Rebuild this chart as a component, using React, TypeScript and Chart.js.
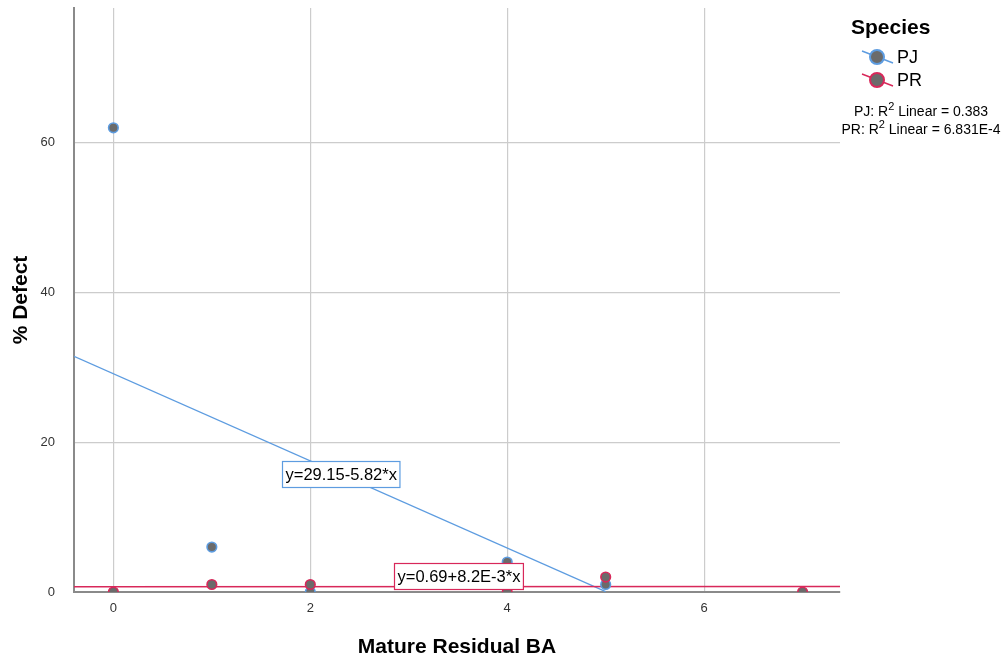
import React, { useEffect, useRef } from "react";
import { Chart, registerables } from "chart.js";

Chart.register(...registerables);

const pjX = [0, 1, 2, 4, 5];
const pjY = [62, 6, 0, 4, 1];
const prX = [0, 1, 2, 4, 5, 7];
const prY = [0, 1, 1, 0, 2, 0];

// fitted lines as reported in the chart
const pjFit = { a: 29.15, b: -5.82, xFrom: -0.4, xTo: 5 };
const prFit = { a: 0.69, b: 0.0082, xFrom: -0.4, xTo: 7.38 };

const xTicks = [0, 2, 4, 6];
const yTicks = [0, 20, 40, 60];

const pjLabel = "y=29.15-5.82*x";
const prLabel = "y=0.69+8.2E-3*x";
const legendTitle = "Species";
const seriesNames = ["PJ", "PR"];
const r2Lines = [
  ["PJ: R", "2", " Linear = 0.383"],
  ["PR: R", "2", " Linear = 6.831E-4"],
];

const BLUE = "#5d9ce0";
const RED = "#d8285a";
const FILL = "#6b6b6b";
const FONT = "'Liberation Sans', Arial, sans-serif";

function fitPts(f: { a: number; b: number; xFrom: number; xTo: number }) {
  return [
    { x: f.xFrom, y: f.a + f.b * f.xFrom },
    { x: f.xTo, y: f.a + f.b * f.xTo },
  ];
}

const overlay = {
  id: "overlay",
  afterDraw(chart: any) {
    const ctx = chart.ctx;
    const ca = chart.chartArea;
    ctx.save();
    // axis titles
    ctx.fillStyle = "#000";
    ctx.font = `bold 21px ${FONT}`;
    ctx.textAlign = "center";
    ctx.textBaseline = "middle";
    ctx.fillText("Mature Residual BA", (ca.left + ca.right) / 2, 647);
    ctx.save();
    ctx.translate(21, 300);
    ctx.rotate(-Math.PI / 2);
    ctx.fillText("% Defect", 0, 0);
    ctx.restore();

    // annotation boxes
    const box = (text: string, left: number, top: number, color: string) => {
      ctx.font = `16.5px ${FONT}`;
      const w = ctx.measureText(text).width + 6;
      const h = 26;
      ctx.fillStyle = "#fff";
      ctx.fillRect(left, top, w, h);
      ctx.strokeStyle = color;
      ctx.lineWidth = 1.2;
      ctx.strokeRect(left + 0.5, top + 0.5, w, h);
      ctx.fillStyle = "#000";
      ctx.textAlign = "left";
      ctx.textBaseline = "middle";
      ctx.fillText(text, left + 3.5, top + h / 2 + 1);
    };
    box(pjLabel, 282, 461, BLUE);
    box(prLabel, 394, 563, RED);

    // legend
    ctx.fillStyle = "#000";
    ctx.font = `bold 21px ${FONT}`;
    ctx.textAlign = "left";
    ctx.textBaseline = "middle";
    ctx.fillText(legendTitle, 851, 28);
    const colors = [BLUE, RED];
    [57, 80].forEach((y, i) => {
      ctx.strokeStyle = colors[i];
      ctx.lineWidth = 1.5;
      ctx.beginPath();
      ctx.moveTo(862, y - 6);
      ctx.lineTo(893, y + 6);
      ctx.stroke();
      ctx.beginPath();
      ctx.arc(877, y, 7, 0, Math.PI * 2);
      ctx.fillStyle = FILL;
      ctx.fill();
      ctx.lineWidth = 2;
      ctx.stroke();
      ctx.fillStyle = "#000";
      ctx.font = `18px ${FONT}`;
      ctx.fillText(seriesNames[i], 897, y + 1);
    });
    // R2 texts
    [112, 130].forEach((y, i) => {
      const [a, sup, b] = r2Lines[i];
      ctx.font = `14px ${FONT}`;
      const wa = ctx.measureText(a).width;
      const wb = ctx.measureText(b).width;
      ctx.font = `11px ${FONT}`;
      const ws = ctx.measureText(sup).width;
      const total = wa + ws + wb;
      let x = 921 - total / 2;
      ctx.fillStyle = "#000";
      ctx.textAlign = "left";
      ctx.textBaseline = "middle";
      ctx.font = `14px ${FONT}`;
      ctx.fillText(a, x, y);
      x += wa;
      ctx.font = `11px ${FONT}`;
      ctx.fillText(sup, x, y - 5);
      x += ws;
      ctx.font = `14px ${FONT}`;
      ctx.fillText(b, x, y);
    });
    ctx.restore();
  },
};

export default function App() {
  const ref = useRef<HTMLCanvasElement>(null);
  useEffect(() => {
    document.body.style.margin = "0";
    const pointStyle = (c: string) => ({
      showLine: false,
      pointRadius: 4.8,
      pointBackgroundColor: FILL,
      pointBorderColor: c,
      pointBorderWidth: 1.6,
    });
    const chart = new Chart(ref.current!, {
      type: "scatter",
      data: {
        datasets: [
          {
            label: "PJ fit",
            data: fitPts(pjFit),
            showLine: true,
            borderColor: BLUE,
            borderWidth: 1.3,
            pointRadius: 0,
            order: 4,
          } as any,
          {
            label: "PR fit",
            data: fitPts(prFit),
            showLine: true,
            borderColor: RED,
            borderWidth: 1.5,
            pointRadius: 0,
            order: 3,
          } as any,
          {
            label: "PJ",
            data: pjX.map((x, i) => ({ x, y: pjY[i] })),
            ...pointStyle(BLUE),
            order: 2,
          } as any,
          {
            label: "PR",
            data: prX.map((x, i) => ({ x, y: prY[i] })),
            ...pointStyle(RED),
            order: 1,
          } as any,
        ],
      },
      options: {
        animation: false,
        responsive: false,
        layout: { padding: { left: 0, right: 163, top: 8, bottom: 0 } },
        plugins: { legend: { display: false }, tooltip: { enabled: false } },
        scales: {
          x: {
            type: "linear",
            min: -0.4,
            max: 7.38,
            afterBuildTicks: (s: any) => {
              s.ticks = xTicks.map((v) => ({ value: v }));
            },
            afterFit: (s: any) => {
              s.height = 68;
              s.paddingLeft = 0;
              s.paddingRight = 0;
            },
            ticks: { color: "#333", font: { family: FONT, size: 13 }, padding: 9 },
            grid: { color: "#cccccc", lineWidth: 1.2, drawTicks: false },
            border: { color: "#8a8a8a", width: 2 },
          },
          y: {
            type: "linear",
            min: 0,
            max: 78,
            afterBuildTicks: (s: any) => {
              s.ticks = yTicks.map((v) => ({ value: v }));
            },
            afterFit: (s: any) => {
              s.width = 74;
              s.paddingTop = 0;
              s.paddingBottom = 0;
            },
            ticks: { color: "#333", font: { family: FONT, size: 13 }, padding: 19 },
            grid: { color: "#cccccc", lineWidth: 1.2, drawTicks: false },
            border: { color: "#8a8a8a", width: 2 },
          },
        },
      } as any,
      plugins: [overlay],
    });
    return () => chart.destroy();
  }, []);
  return <canvas ref={ref} width={1003} height={660} style={{ display: "block" }} />;
}
